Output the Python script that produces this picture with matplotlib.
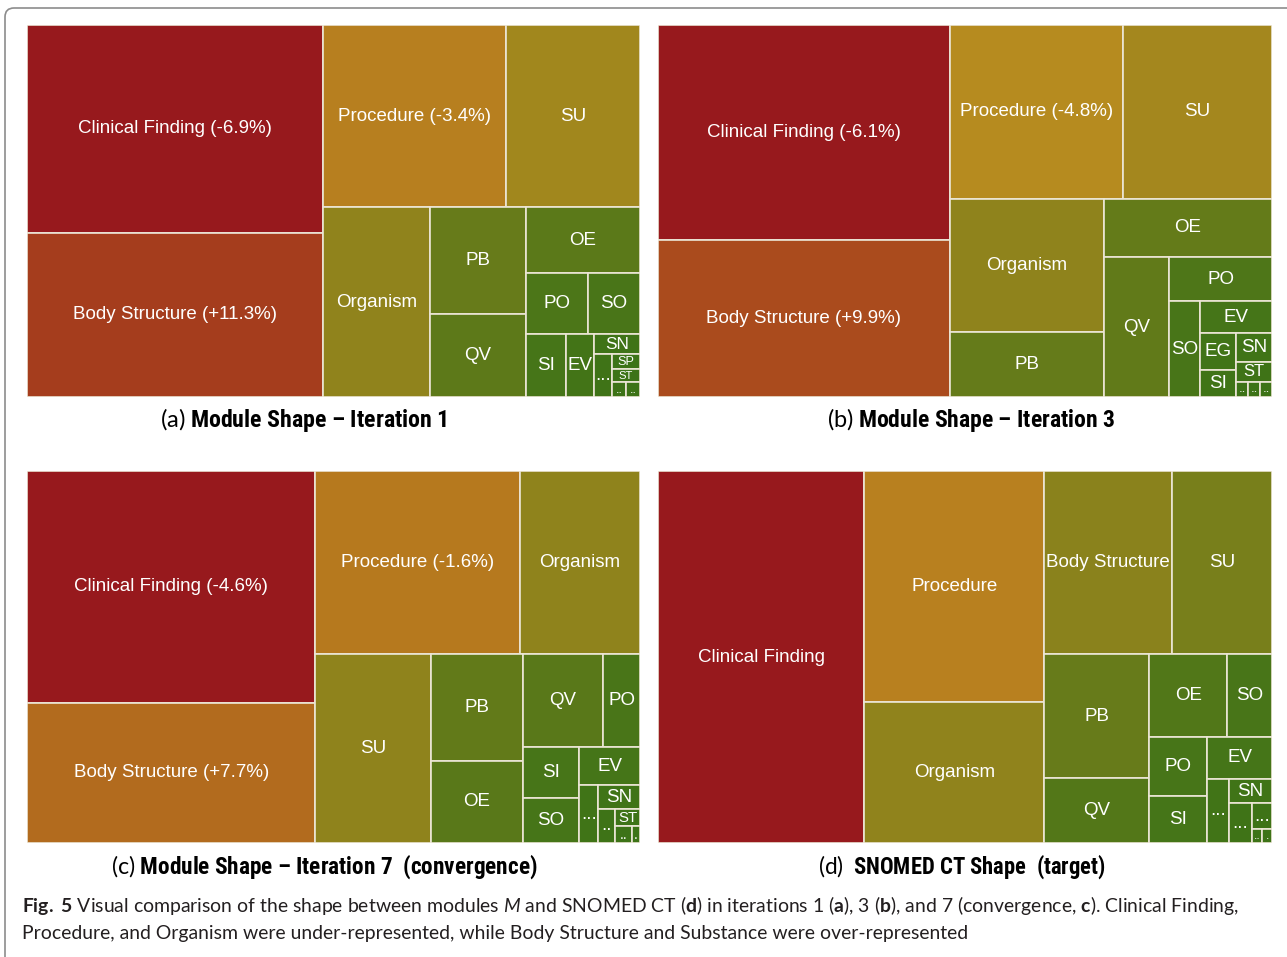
import matplotlib
matplotlib.use('Agg')
import matplotlib.pyplot as plt
from matplotlib import font_manager
from matplotlib.colors import LinearSegmentedColormap, Normalize
from matplotlib.patches import Rectangle, FancyBboxPatch
from matplotlib.transforms import IdentityTransform

# ---- data: cell labels, sizes (% of area) and split tree per panel ----
a_labels = ['Clinical Finding (-6.9%)', 'Body Structure (+11.3%)', 'Procedure (-3.4%)', 'SU',
            'Organism', 'PB', 'QV', 'OE', 'PO', 'SO', 'SI', 'EV', 'SN', '...', 'SP', 'ST', '..', '..']
a_values = [26.9, 21.3, 14.6, 10.7, 8.9, 4.5, 3.5, 3.3, 1.67, 1.40, 1.09, 0.79,
            0.40, 0.33, 0.18, 0.16, 0.09, 0.09]
a_tree = ['h', ['v', 0, 1], ['v', ['h', 2, 3], ['h', 4, ['v', 5, 6],
          ['v', 7, ['h', 8, 9], ['h', 10, 11, ['v', 12, ['h', 13, ['v', 14, 15, ['h', 16, 17]]]]]]]]]

b_labels = ['Clinical Finding (-6.1%)', 'Body Structure (+9.9%)', 'Procedure (-4.8%)', 'SU',
            'Organism', 'PB', 'OE', 'QV', 'PO', 'SO', 'EV', 'EG', 'SI', 'SN', 'ST', '..', '..', '..']
b_values = [27.5, 20.0, 13.2, 11.3, 9.0, 4.4, 4.3, 4.0, 2.0, 1.3, 1.0, 0.58,
            0.43, 0.45, 0.30, 0.08, 0.08, 0.08]
b_tree = ['h', ['v', 0, 1], ['v', ['h', 2, 3], ['h', ['v', 4, 5], ['v', 6, ['h', 7, ['v', 8,
          ['h', 9, ['v', 10, ['h', ['v', 11, 12], ['v', 13, 14, ['h', 15, 16, 17]]]]]]]]]]]

c_labels = ['Clinical Finding (-4.6%)', 'Body Structure (+7.7%)', 'Procedure (-1.6%)', 'Organism',
            'SU', 'PB', 'OE', 'QV', 'PO', 'SI', 'SO', 'EV', '...', 'SN', '..', 'ST', '..', '.']
c_values = [29.3, 17.7, 16.4, 9.6, 9.6, 4.3, 3.3, 3.3, 1.5, 1.26, 1.13, 1.02,
            0.48, 0.43, 0.25, 0.19, 0.12, 0.06]
c_tree = ['h', ['v', 0, 1], ['v', ['h', 2, 3], ['h', 4, ['v', 5, 6], ['v', ['h', 7, 8],
          ['h', ['v', 9, 10], ['v', 11, ['h', 12, ['v', 13, ['h', 14, ['v', 15, ['h', 16, 17]]]]]]]]]]]

d_labels = ['Clinical Finding', 'Procedure', 'Organism', 'Body Structure', 'SU', 'PB', 'QV',
            'OE', 'SO', 'PO', 'SI', 'EV', '...', 'SN', '...', '...', '..', '.']
d_values = [33.6, 18.1, 11.1, 10.3, 8.0, 5.7, 3.0, 2.8, 1.6, 1.5, 1.2, 1.2,
            0.6, 0.46, 0.41, 0.22, 0.06, 0.06]
d_tree = ['h', 0, ['v', 1, 2], ['v', ['h', 3, 4], ['h', ['v', 5, 6], ['v', ['h', 7, 8],
          ['h', ['v', 9, 10], ['v', 11, ['h', 12, ['v', 13, ['h', 14, ['v', 15, ['h', 16, 17]]]]]]]]]]]

titles = [r"$\mathrm{(a)}$ Module Shape – Iteration 1",
          r"$\mathrm{(b)}$ Module Shape – Iteration 3",
          r"$\mathrm{(c)}$ Module Shape – Iteration 7  (convergence)",
          r"$\mathrm{(d)}$  SNOMED CT Shape  (target)"]

caption1 = (r"$\mathbf{Fig.}$ $\mathbf{5}$ Visual comparison of the shape between modules $\mathit{M}$ and "
            r"SNOMED CT ($\mathbf{d}$) in iterations 1 ($\mathbf{a}$), 3 ($\mathbf{b}$), and 7 "
            r"(convergence, $\mathbf{c}$). Clinical Finding,")
caption2 = "Procedure, and Organism were under-represented, while Body Structure and Substance were over-represented"

# ---- fonts ----
names = {f.name for f in font_manager.fontManager.ttflist}
cond = 'DejaVu Sans'
for n in ['Liberation Sans Narrow', 'Roboto Condensed', 'Open Sans Condensed']:
    if n in names:
        cond = n
        break

plt.rcParams['mathtext.fontset'] = 'custom'
plt.rcParams['mathtext.rm'] = 'Lato'
plt.rcParams['mathtext.bf'] = 'Lato:bold'
plt.rcParams['mathtext.it'] = 'Lato:italic'

W, H = 1287, 957
fig = plt.figure(figsize=(W / 100, H / 100), dpi=100, facecolor='white')
renderer = fig.canvas.get_renderer()

# green (min) -> gold (mid) -> dark red (max)
cmap = LinearSegmentedColormap.from_list(
    'gtree', [(0.0, '#3D7317'), (0.5, '#BB8C1F'), (0.6, '#B26C1E'),
              (0.75, '#A8441D'), (1.0, '#97191D')])


def total(node, vals):
    if isinstance(node, int):
        return vals[node]
    return sum(total(k, vals) for k in node[1:])


def split(node, vals, x, y, w, h, out):
    if isinstance(node, int):
        out[node] = (x, y, w, h)
        return
    s = total(node, vals)
    for k in node[1:]:
        f = total(k, vals) / s
        if node[0] == 'h':
            split(k, vals, x, y, w * f, h, out)
            x += w * f
        else:
            split(k, vals, x, y, w, h * f, out)
            y += h * f


def fit_text(x, y, s, width, ha='center', **kw):
    t = fig.text(x / W, 1 - y / H, s, ha=ha, va='baseline', fontsize=14, **kw)
    w = t.get_window_extent(renderer).width
    t.set_fontsize(14 * width / w)
    return t


panels = [(a_labels, a_values, a_tree, (27, 25, 613, 372)),
          (b_labels, b_values, b_tree, (658, 25, 614, 372)),
          (c_labels, c_values, c_tree, (27, 471, 613, 372)),
          (d_labels, d_values, d_tree, (658, 471, 614, 372))]

for labels, vals, tree, (px, py, pw, ph) in panels:
    ax = fig.add_axes([px / W, 1 - (py + ph) / H, pw / W, ph / H])
    ax.set_xlim(0, 1)
    ax.set_ylim(1, 0)
    ax.axis('off')
    norm = Normalize(min(vals), max(vals))
    cells = {}
    split(tree, vals, 0.0, 0.0, 1.0, 1.0, cells)
    for i, (x, y, w, h) in cells.items():
        rect = Rectangle((x, y), w, h, facecolor=cmap(norm(vals[i])),
                         edgecolor='#ECE6D6', linewidth=1.2)
        ax.add_patch(rect)
        fs = min(13.5, h * ph * 0.62)
        t = ax.text(x + w / 2, y + h / 2, labels[i], color='white', fontsize=fs,
                    family='Liberation Sans', ha='center', va='center', clip_on=True)
        t.set_clip_path(rect)

# subtitles
sub_pos = [(304, 427, 288), (971, 427, 289), (324, 874, 428), (962, 874, 289)]
for s, (cx, by, tw) in zip(titles, sub_pos):
    fit_text(cx, by, s, tw, family=cond, fontweight='bold', fontstretch='condensed', color='black')

# caption
t1 = fit_text(22, 912, caption1, 1218, ha='left', family='Lato', color='#231F20')
fig.text(22 / W, 1 - 939 / H, caption2, ha='left', va='baseline', family='Lato',
         fontsize=t1.get_fontsize(), color='#231F20')

# outer frame of the figure box
frame = FancyBboxPatch((5, -40), 1400, 949 + 40, boxstyle='round,pad=0,rounding_size=9',
                       facecolor='none', edgecolor='#8C8C8C', linewidth=1.2,
                       transform=IdentityTransform())
fig.add_artist(frame)

fig.savefig('out.png', dpi=100)
